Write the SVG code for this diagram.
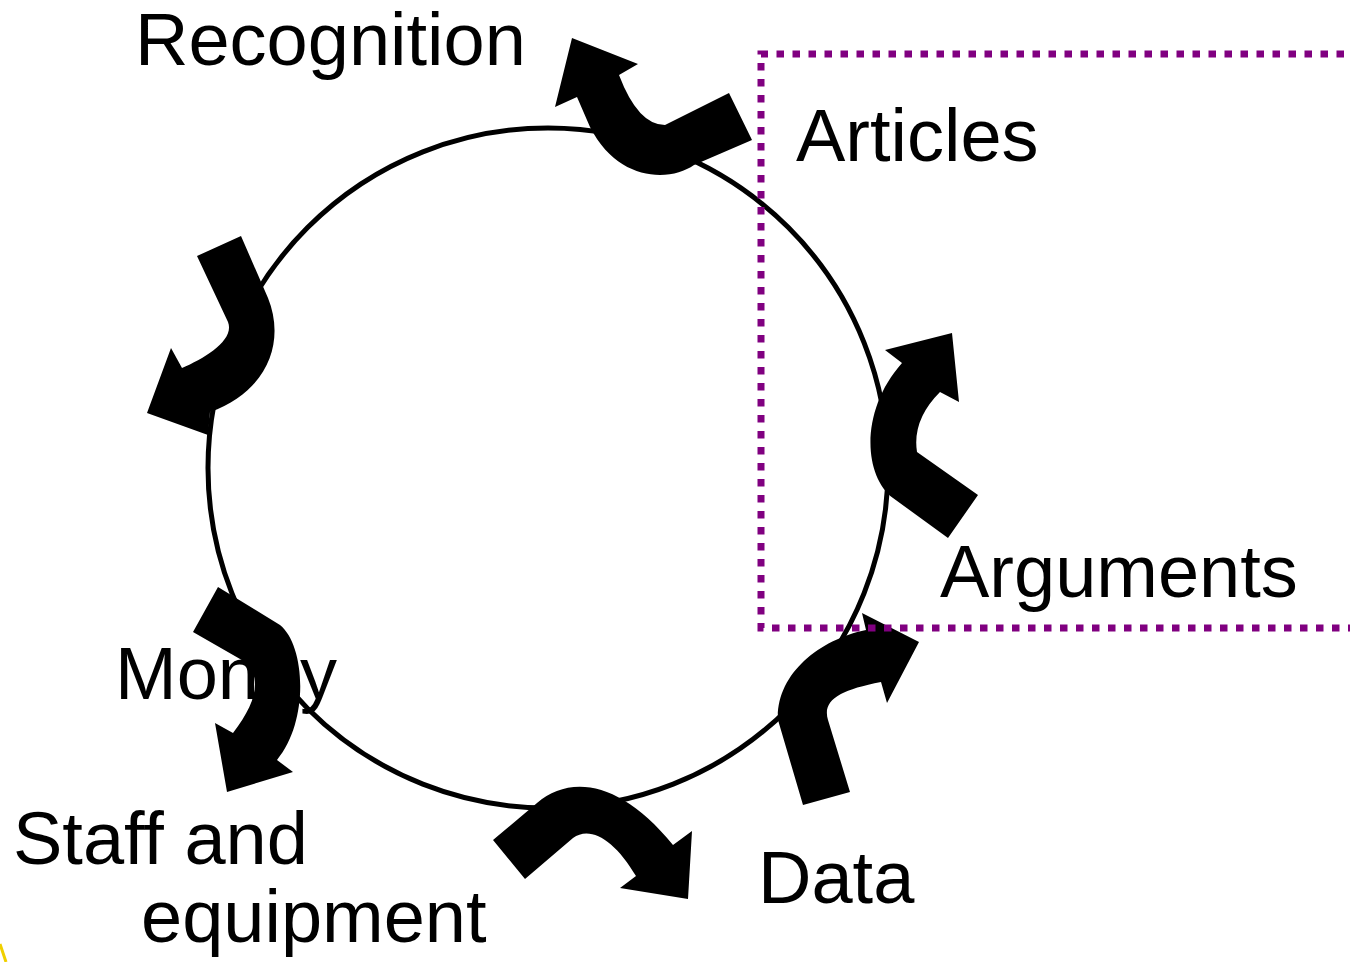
<svg xmlns="http://www.w3.org/2000/svg" width="1350" height="962" viewBox="0 0 1350 962">
<style>
.lbl{font-family:"Liberation Sans",Arial,sans-serif;font-size:74px;fill:#000}
.arrow{fill:#000;stroke:none}
.ring{fill:none;stroke:#000;stroke-width:5}
.box{fill:none;stroke:#800080;stroke-width:7;stroke-dasharray:7.5 8.5}
</style>
<rect width="1350" height="962" fill="#fff"/>
<g id="labels">
<g id="recognition"><text class="lbl" x="135" y="65">Recognition</text></g>
<g id="articles"><text class="lbl" x="796" y="161">Articles</text></g>
<g id="arguments"><text class="lbl" x="940" y="597">Arguments</text></g>
<g id="money"><text class="lbl" x="115" y="699">Money</text></g>
<g id="staff"><text class="lbl" x="13" y="864">Staff and</text><text class="lbl" x="141" y="942">equipment</text></g>
<g id="data"><text class="lbl" x="758" y="903">Data</text></g>
</g>
<g id="cycle"><circle class="ring" cx="548" cy="468" r="340"/></g>
<g id="connectors">
<path class="arrow" d="M 572 38 L 638 64 L 619 75 Q 638 125 665 125 L 729 93 L 752 140 L 694 165 C 670 182 618 182 590 127 L 577 97 L 555 107 Z"/>
<path class="arrow" d="M 197 256 L 241 236 L 268 298 C 285 340 270 390 210 412 L 208 435 L 147 413 L 171 348 L 182 368 C 205 358 235 340 228 322 Z"/>
<path class="arrow" d="M 978 495 L 948 538 L 893 498 C 863 475 860 410 902 363 L 885 350 L 952 333 L 959 402 L 940 392 Q 912 420 917 452 Z"/>
<path class="arrow" d="M 803 805 L 850 792 L 828 720 C 822 700 840 690 881 682 L 887 703 L 919 642 L 862 613 L 866 630 C 818 640 776 675 778 720 Z"/>
<path class="arrow" d="M 493 840 L 537 803 C 570 775 620 780 673 845 L 692 831 L 688 899 L 620 888 L 636 876 C 615 840 590 825 573 838 L 525 879 Z"/>
<path class="arrow" d="M 218 587 L 280 625 C 305 645 310 720 277 760 L 293 772 L 227 792 L 215 723 L 233 733 C 255 705 262 680 247 663 L 193 632 Z"/>
</g>
<g id="scope"><path class="box" d="M 1360 54 H 761 V 628 H 1360"/></g>
<path d="M 0 944 L 6 962" stroke="#f0d000" stroke-width="3" fill="none"/>
</svg>
